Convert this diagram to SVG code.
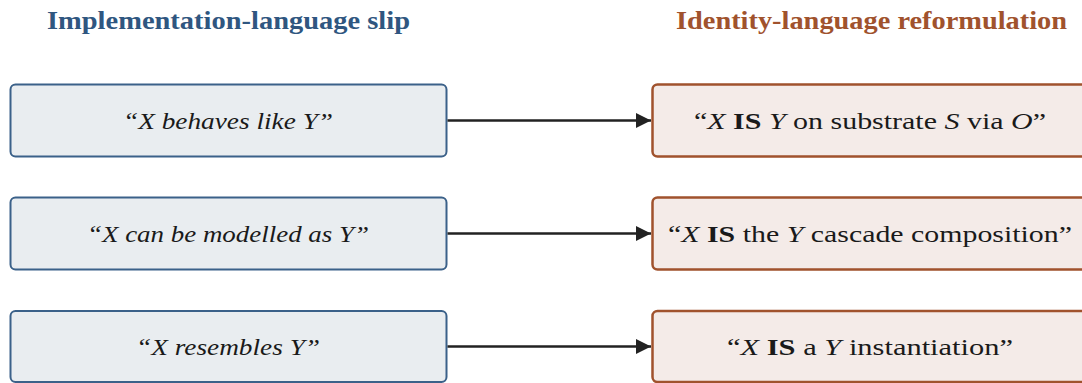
<svg xmlns="http://www.w3.org/2000/svg" width="1082" height="383" viewBox="0 0 1082 383">
  <defs>
    <style>
      .title { font-family: "Liberation Serif", "DejaVu Serif", serif; font-weight: bold; font-size: 25px; text-anchor: middle; }
      .t-left { fill: #2f5680; }
      .t-right { fill: #a0522d; }
      .slip rect { fill: #e9edf0; stroke: #3b6189; stroke-width: 2; }
      .reform rect { fill: #f4ebe8; stroke: #a0522d; stroke-width: 2.5; }
      .label { font-family: "Liberation Serif", "DejaVu Serif", serif; font-size: 22.5px; fill: #1a1a1a; text-anchor: middle; }
      .it { font-style: italic; }
      .bf { font-weight: bold; }
      .conn line { stroke: #222; stroke-width: 2.5; }
    </style>
    <marker id="arrow" viewBox="0 0 10 10" refX="10" refY="5" markerWidth="9.2" markerHeight="6" markerUnits="strokeWidth" orient="auto">
      <path d="M0,0 L10,5 L0,10 Z" fill="#222"/>
    </marker>
  </defs>

  <!-- column headings -->
  <text class="title t-left" x="228.5" y="29" textLength="363" lengthAdjust="spacingAndGlyphs">Implementation-language slip</text>
  <text class="title t-right" x="871.5" y="29" textLength="391" lengthAdjust="spacingAndGlyphs">Identity-language reformulation</text>

  <!-- left column: slip phrasings -->
  <g id="slip1" class="slip">
    <rect x="10.5" y="84.5" width="436" height="72" rx="5"/>
    <text class="label it" x="228" y="129" textLength="210" lengthAdjust="spacingAndGlyphs">“X behaves like Y”</text>
  </g>
  <g id="slip2" class="slip">
    <rect x="10.5" y="197.5" width="436" height="72" rx="5"/>
    <text class="label it" x="228" y="242" textLength="282" lengthAdjust="spacingAndGlyphs">“X can be modelled as Y”</text>
  </g>
  <g id="slip3" class="slip">
    <rect x="10.5" y="311" width="436" height="71" rx="5"/>
    <text class="label it" x="228" y="355" textLength="184" lengthAdjust="spacingAndGlyphs">“X resembles Y”</text>
  </g>

  <!-- right column: identity reformulations -->
  <g id="reform1" class="reform">
    <rect x="652.5" y="84.5" width="436" height="72" rx="5"/>
    <text class="label" x="870" y="129" textLength="352" lengthAdjust="spacingAndGlyphs">“<tspan class="it">X</tspan> <tspan class="bf">IS</tspan> <tspan class="it">Y</tspan> on substrate <tspan class="it">S</tspan> via <tspan class="it">O</tspan>”</text>
  </g>
  <g id="reform2" class="reform">
    <rect x="652.5" y="197.5" width="436" height="72" rx="5"/>
    <text class="label" x="870" y="242" textLength="404" lengthAdjust="spacingAndGlyphs">“<tspan class="it">X</tspan> <tspan class="bf">IS</tspan> the <tspan class="it">Y</tspan> cascade composition”</text>
  </g>
  <g id="reform3" class="reform">
    <rect x="652.5" y="311" width="436" height="71" rx="5"/>
    <text class="label" x="870" y="355" textLength="286" lengthAdjust="spacingAndGlyphs">“<tspan class="it">X</tspan> <tspan class="bf">IS</tspan> a <tspan class="it">Y</tspan> instantiation”</text>
  </g>

  <!-- connectors -->
  <g id="connectors" class="conn">
    <line x1="447.5" y1="120.5" x2="651" y2="120.5" marker-end="url(#arrow)"/>
    <line x1="447.5" y1="233.5" x2="651" y2="233.5" marker-end="url(#arrow)"/>
    <line x1="447.5" y1="346.5" x2="651" y2="346.5" marker-end="url(#arrow)"/>
  </g>
</svg>
